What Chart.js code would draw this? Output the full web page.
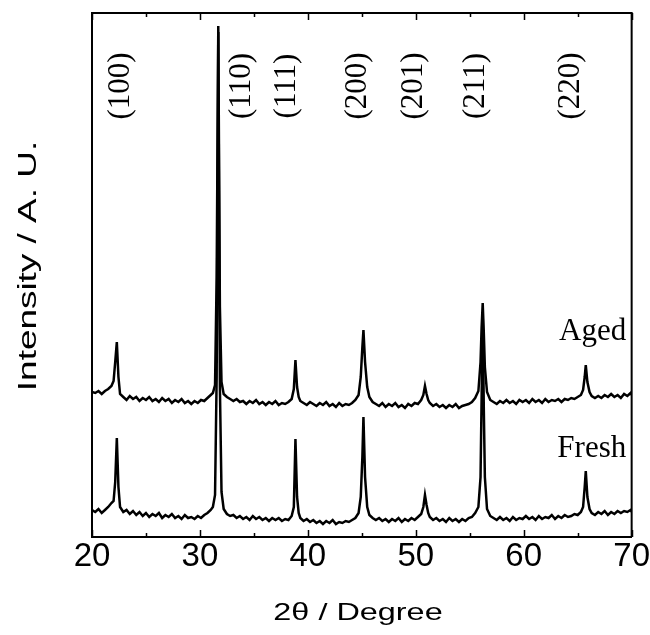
<!DOCTYPE html>
<html>
<head>
<meta charset="utf-8">
<script src="https://cdn.jsdelivr.net/npm/chart.js@4.4.0/dist/chart.umd.min.js"></script>
<style>
  html, body { margin: 0; padding: 0; background: #fff; }
  #wrap { width: 650px; height: 635px; position: relative; }
</style>
</head>
<body>
<div id="wrap"><canvas id="xrd"></canvas></div>
<script>
// 2θ positions (degrees), shared by both patterns
const angles = [
  20.0, 20.3, 20.6, 20.9, 21.2, 21.5, 21.8, 22.0, 22.15, 22.3, 22.45, 22.6, 22.9, 23.2, 23.5, 23.8,
  24.1, 24.4, 24.7, 25.0, 25.3, 25.6, 25.9, 26.2, 26.5, 26.8, 27.1, 27.4, 27.7, 28.0, 28.3, 28.6,
  28.9, 29.2, 29.5, 29.8, 30.1, 30.4, 30.7, 31.0, 31.2, 31.4, 31.55, 31.7, 31.85, 32.0, 32.2, 32.5,
  32.8, 33.1, 33.4, 33.7, 34.0, 34.3, 34.6, 34.9, 35.2, 35.5, 35.8, 36.1, 36.4, 36.7, 37.0, 37.3,
  37.6, 37.9, 38.2, 38.5, 38.7, 38.85, 39.0, 39.15, 39.3, 39.6, 39.9, 40.2, 40.5, 40.8, 41.1, 41.4,
  41.7, 42.0, 42.3, 42.6, 42.9, 43.2, 43.5, 43.8, 44.1, 44.4, 44.7, 44.9, 45.05, 45.15, 45.3, 45.5,
  45.7, 46.0, 46.3, 46.6, 46.9, 47.2, 47.5, 47.8, 48.1, 48.4, 48.7, 49.0, 49.3, 49.6, 49.9, 50.2,
  50.5, 50.7, 50.85, 51.0, 51.15, 51.3, 51.6, 51.9, 52.2, 52.5, 52.8, 53.1, 53.4, 53.7, 54.0, 54.3,
  54.6, 54.9, 55.2, 55.5, 55.8, 56.0, 56.1, 56.2, 56.3, 56.4, 56.6, 56.9, 57.2, 57.5, 57.8, 58.1,
  58.4, 58.7, 59.0, 59.3, 59.6, 59.9, 60.2, 60.5, 60.8, 61.1, 61.4, 61.7, 62.0, 62.3, 62.6, 62.9,
  63.2, 63.5, 63.8, 64.1, 64.4, 64.7, 65.0, 65.3, 65.5, 65.65, 65.75, 65.9, 66.1, 66.3, 66.6, 66.9,
  67.2, 67.5, 67.8, 68.1, 68.4, 68.7, 69.0, 69.3, 69.6, 69.9, 70.0
];

// intensities (a.u.)
const freshCounts = [
  27, 25, 28, 24, 27, 30, 34, 36, 55, 99, 50, 30, 25, 27, 23, 26,
  22, 25, 21, 24, 20, 23, 21, 24, 19, 22, 20, 23, 19, 21, 18, 22,
  19, 20, 18, 21, 19, 22, 24, 27, 30, 42, 160, 505, 150, 45, 28, 23,
  21, 22, 19, 21, 18, 20, 17, 21, 18, 20, 17, 19, 16, 19, 17, 19,
  16, 18, 17, 21, 30, 98, 40, 24, 19, 16, 18, 15, 17, 14, 16, 13,
  16, 14, 17, 13, 15, 14, 16, 15, 17, 19, 24, 40, 80, 120, 60, 30,
  22, 19, 17, 19, 16, 18, 15, 18, 16, 19, 15, 18, 16, 19, 17, 20,
  23, 30, 42, 32, 24, 20, 17, 19, 16, 18, 15, 19, 16, 18, 15, 18,
  16, 19, 20, 24, 30, 60, 140, 225, 130, 60, 28, 21, 19, 17, 20, 17,
  19, 16, 20, 17, 19, 18, 21, 18, 20, 17, 21, 18, 20, 19, 22, 18,
  21, 19, 22, 20, 21, 23, 22, 25, 30, 50, 66, 40, 28, 24, 22, 25,
  23, 26, 22, 25, 23, 26, 24, 26, 25, 27, 25
];

const agedCounts = [
  145, 144, 146, 143, 146, 148, 151, 156, 175, 195, 160, 143, 140, 137, 141, 138,
  140, 136, 139, 137, 140, 136, 138, 135, 139, 136, 138, 134, 137, 135, 138, 134,
  136, 133, 136, 134, 137, 136, 139, 142, 144, 152, 260, 511, 230, 155, 143, 140,
  138, 136, 138, 135, 136, 133, 136, 134, 137, 133, 135, 132, 135, 133, 136, 132,
  134, 133, 135, 138, 148, 177, 150, 140, 136, 134, 132, 135, 133, 131, 134, 132,
  135, 131, 133, 130, 134, 131, 133, 132, 134, 137, 142, 160, 190, 207, 175, 150,
  140, 135, 133, 131, 134, 130, 133, 131, 134, 130, 132, 129, 133, 131, 134, 133,
  137, 142, 151, 143, 137, 134, 131, 133, 130, 132, 129, 132, 130, 133, 129, 131,
  132, 133, 135, 139, 146, 175, 210, 234, 205, 170, 145, 137, 135, 133, 136, 134,
  137, 134, 136, 133, 137, 135, 137, 134, 138, 135, 137, 134, 138, 135, 137, 136,
  138, 135, 138, 137, 139, 138, 140, 142, 147, 160, 172, 155, 145, 141, 139, 141,
  139, 142, 140, 143, 140, 142, 139, 143, 141, 144, 142
];

// reflection labels and where they sit on the 2θ axis
const reflections = ["(100)", "(110)", "(111)", "(200)", "(201)", "(211)", "(220)"];
const reflectionAngles = [22.7, 33.9, 38.1, 44.6, 49.8, 55.6, 64.4];

const seriesNames = ["Aged", "Fresh"];
const xTicks = [20, 30, 40, 50, 60, 70];
const xTitle = "2θ / Degree";
const yTitle = "Intensity / A. U.";

function toPoints(ys) {
    return angles.map((a, i) => ({ x: a, y: ys[i] }));
}

const serif = '"Liberation Serif", "Times New Roman", serif';
const sans = '"Liberation Sans", Arial, sans-serif';

// the scanned titles are wider than plain Arial, so stretch them along the text
function stretchedText(ctx, txt, x, y, rot, stretch) {
    ctx.save();
    ctx.translate(x, y);
    ctx.rotate(rot);
    ctx.scale(stretch, 1);
    ctx.fillText(txt, 0, 0);
    ctx.restore();
}

// frame, inward ticks and text labels
const decorations = {
    id: "decorations",
    afterDraw(chart) {
        const { ctx, chartArea: a, scales } = chart;
        const xs = scales.x, ys = scales.y;
        ctx.save();
        ctx.strokeStyle = "#000";
        ctx.lineWidth = 2;
        ctx.beginPath();
        ctx.moveTo(a.left, a.top);
        ctx.lineTo(a.right, a.top);
        ctx.lineTo(a.right, a.bottom);
        ctx.stroke();

        // ticks every 5 degrees, pointing inside, on bottom and top
        ctx.lineWidth = 1.5;
        for (let v = 20; v <= 70; v += 5) {
            const px = Math.round(xs.getPixelForValue(v)) + 0.5;
            const len = v % 10 === 0 ? 7 : 4;
            ctx.beginPath();
            ctx.moveTo(px, a.bottom);
            ctx.lineTo(px, a.bottom - len);
            ctx.moveTo(px, a.top);
            ctx.lineTo(px, a.top + len);
            ctx.stroke();
        }

        ctx.fillStyle = "#000";
        ctx.font = "31px " + serif;
        ctx.textAlign = "center";
        ctx.textBaseline = "middle";
        reflections.forEach((txt, i) => {
            const px = xs.getPixelForValue(reflectionAngles[i]);
            stretchedText(ctx, txt, px, a.top + 73, -Math.PI / 2, 1);
        });

        ctx.textAlign = "right";
        ctx.textBaseline = "alphabetic";
        const rx = xs.getPixelForValue(69.5);
        ctx.fillText(seriesNames[0], rx, ys.getPixelForValue(197));
        ctx.fillText(seriesNames[1], rx, ys.getPixelForValue(80));

        // axis titles
        ctx.textAlign = "center";
        ctx.font = "24px " + sans;
        stretchedText(ctx, xTitle, 358, 620, 0, 1.35);
        ctx.textBaseline = "middle";
        ctx.font = "26px " + sans;
        stretchedText(ctx, yTitle, 29, 266, -Math.PI / 2, 1.42);
        ctx.restore();
    }
};

const ctx = document.getElementById("xrd").getContext("2d");
new Chart(ctx, {
    type: "line",
    data: {
        datasets: [
            { label: seriesNames[0], data: toPoints(agedCounts) },
            { label: seriesNames[1], data: toPoints(freshCounts) }
        ].map(ds => Object.assign(ds, {
            borderColor: "#000",
            borderWidth: 2.5,
            pointRadius: 0,
            tension: 0,
            fill: false
        }))
    },
    options: {
        responsive: true,
        maintainAspectRatio: false,
        animation: false,
        layout: { padding: { top: 13, right: 18, left: 0, bottom: 0 } },
        scales: {
            x: {
                type: "linear",
                min: 20,
                max: 70,
                afterBuildTicks: s => { s.ticks = xTicks.map(v => ({ value: v })); },
                afterFit: s => { s.height = 98; },
                ticks: {
                    color: "#000",
                    padding: 0,
                    font: { family: sans, size: 33 }
                },
                grid: { display: false, drawTicks: false },
                border: { color: "#000", width: 2 },
                title: { display: false }
            },
            y: {
                min: 0,
                max: 524,
                afterFit: s => { s.width = 92; },
                ticks: { display: false },
                grid: { display: false, drawTicks: false },
                border: { color: "#000", width: 2 },
                title: { display: false }
            }
        },
        plugins: {
            legend: { display: false },
            tooltip: { enabled: false }
        }
    },
    plugins: [decorations]
});
</script>
</body>
</html>
